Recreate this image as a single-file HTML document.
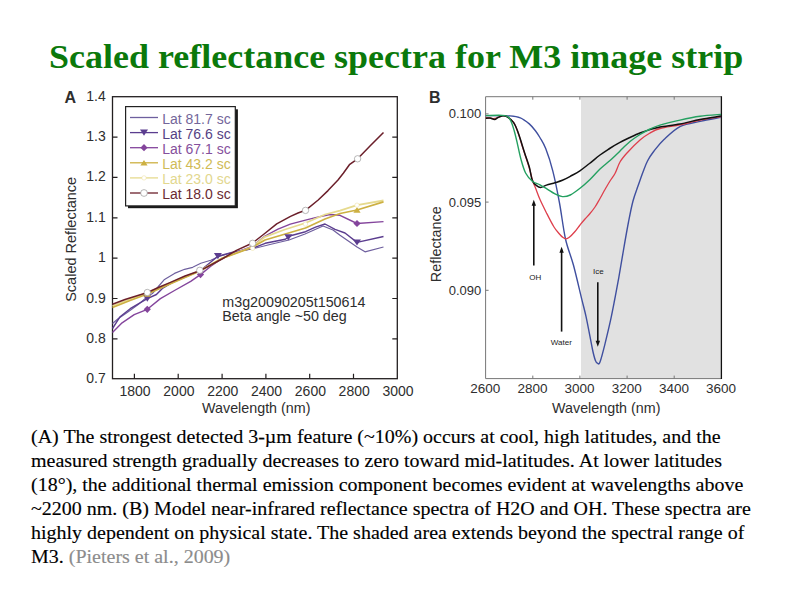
<!DOCTYPE html>
<html><head><meta charset="utf-8"><style>html,body{margin:0;padding:0;background:#fff;}svg{display:block;}</style></head>
<body><svg width="794" height="595" viewBox="0 0 794 595">
<rect width="794" height="595" fill="#fff"/>
<text transform="translate(49,67.5) scale(1,0.94)" font-family="Liberation Serif" font-weight="bold" font-size="36" fill="#0b790b">Scaled reflectance spectra for M3 image strip</text>
<g font-family="Liberation Sans" fill="#2e2e2e">
<text x="64.5" y="103" font-size="16" font-weight="bold">A</text>
<text x="105.8" y="100.8" font-size="14" text-anchor="end">1.4</text>
<text x="105.8" y="141.1" font-size="14" text-anchor="end">1.3</text>
<text x="105.8" y="181.4" font-size="14" text-anchor="end">1.2</text>
<text x="105.8" y="221.8" font-size="14" text-anchor="end">1.1</text>
<text x="105.8" y="262.2" font-size="14" text-anchor="end">1</text>
<text x="105.8" y="302.5" font-size="14" text-anchor="end">0.9</text>
<text x="105.8" y="342.9" font-size="14" text-anchor="end">0.8</text>
<text x="105.8" y="383.2" font-size="14" text-anchor="end">0.7</text>
<text x="135.1" y="395.8" font-size="14" text-anchor="middle">1800</text>
<text x="178.9" y="395.8" font-size="14" text-anchor="middle">2000</text>
<text x="222.8" y="395.8" font-size="14" text-anchor="middle">2200</text>
<text x="266.6" y="395.8" font-size="14" text-anchor="middle">2400</text>
<text x="310.4" y="395.8" font-size="14" text-anchor="middle">2600</text>
<text x="354.2" y="395.8" font-size="14" text-anchor="middle">2800</text>
<text x="398.0" y="395.8" font-size="14" text-anchor="middle">3000</text>
<text x="202.1" y="412.9" font-size="14.3">Wavelength (nm)</text>
<text transform="translate(76,301.8) rotate(-90)" font-size="14.5">Scaled Reflectance</text>
<text x="222.3" y="306.6" font-size="14.3">m3g20090205t150614</text>
<text x="222.3" y="321" font-size="14.3">Beta angle ~50 deg</text>
</g>
<rect x="112.5" y="96.7" width="284.8" height="282" fill="none" stroke="#231f20" stroke-width="1.3"/>
<path d="M112.5,137.1h5M397.3,137.1h-5M112.5,177.4h5M397.3,177.4h-5M112.5,217.8h5M397.3,217.8h-5M112.5,258.2h5M397.3,258.2h-5M112.5,298.5h5M397.3,298.5h-5M112.5,338.9h5M397.3,338.9h-5M134.4,378.7v-5M178.2,378.7v-5M222.1,378.7v-5M265.9,378.7v-5M309.7,378.7v-5M353.5,378.7v-5" stroke="#231f20" stroke-width="1.2" fill="none"/>
<polyline points="112.5,323.5 118.1,318.7 128.2,311.7 138.2,304.6 147.3,296.6 152.4,293.5 158.4,286.5 164.5,279.4 174.5,273.4 184.6,269.3 192.7,267.3 200.8,263.3 210.8,260.3 218.9,256.5 232.0,252.5 252.0,249.0 270.0,244.5 289.0,240.0 305.0,234.0 323.0,226.0 333.0,230.0 340.0,235.3 357.0,247.0 365.0,251.8 383.5,247.0" fill="none" stroke="#6e5f9e" stroke-width="1.2" stroke-linejoin="round"/>
<polyline points="112.5,328.5 120.1,316.7 130.2,308.7 147.3,298.6 156.4,294.5 162.4,288.5 172.5,282.4 186.6,276.4 200.8,270.3 217.9,256.2 232.0,252.5 252.0,248.5 265.2,243.3 285.3,239.3 288.3,237.2 292.4,235.2 305.5,231.7 315.5,227.2 325.0,224.0 335.0,229.4 345.0,233.0 357.0,242.4 383.5,236.5" fill="none" stroke="#5b3d8f" stroke-width="1.4" stroke-linejoin="round"/>
<polyline points="112.5,332.5 122.1,322.8 134.2,314.7 147.3,309.3 160.4,298.6 174.5,290.5 190.7,281.4 200.8,274.4 210.8,266.3 222.0,258.5 240.0,251.0 252.0,246.5 265.0,236.0 278.0,229.2 290.3,224.1 305.5,220.1 315.5,217.6 330.0,214.5 340.0,215.3 357.0,223.5 383.5,221.6" fill="none" stroke="#84459c" stroke-width="1.4" stroke-linejoin="round"/>
<polyline points="112.5,306.0 130.0,299.0 147.5,292.8 170.0,283.0 200.0,270.5 222.0,258.2 252.0,247.0 265.0,236.8 285.0,229.5 305.5,223.0 325.0,214.5 340.0,210.6 357.0,205.2 383.5,200.5" fill="none" stroke="#e6da8e" stroke-width="1.8" stroke-linejoin="round"/>
<polyline points="112.5,307.5 130.0,300.5 147.5,294.0 170.0,284.0 200.0,271.0 222.0,258.5 252.0,247.5 265.0,240.0 305.5,228.0 325.0,219.0 340.0,213.5 357.0,210.0 383.5,201.9" fill="none" stroke="#cdb042" stroke-width="1.7" stroke-linejoin="round"/>
<polyline points="112.5,304.3 125.0,299.5 147.5,292.5 158.4,287.5 170.5,282.4 185.0,276.0 199.8,270.8 222.0,259.0 236.4,250.4 252.6,243.0 264.1,234.0 276.7,223.9 290.5,216.4 298.0,213.0 305.5,210.3 318.2,200.0 328.0,190.6 338.0,180.0 343.5,173.0 349.4,164.7 357.6,158.8 370.0,146.0 383.5,132.5" fill="none" stroke="#6b1f2a" stroke-width="1.5" stroke-linejoin="round"/>
<path d="M143.3,295.6h8.0l-4.0,6.2z" fill="#5b3d8f"/>
<path d="M213.9,253.0h8.0l-4.0,6.2z" fill="#5b3d8f"/>
<path d="M284.3,234.2h8.0l-4.0,6.2z" fill="#5b3d8f"/>
<path d="M353.0,239.4h8.0l-4.0,6.2z" fill="#5b3d8f"/>
<path d="M147.3,305.7l3.6,3.6l-3.6,3.6l-3.6,-3.6z" fill="#84459c"/>
<path d="M200.5,271.0l3.6,3.6l-3.6,3.6l-3.6,-3.6z" fill="#84459c"/>
<path d="M357,219.9l3.6,3.6l-3.6,3.6l-3.6,-3.6z" fill="#84459c"/>
<path d="M143.9,296.7h7.2l-3.6,-5.6z" fill="#cdb042"/>
<path d="M353.4,212.7h7.2l-3.6,-5.6z" fill="#cdb042"/>
<circle cx="252.6" cy="248.3" r="2.2" fill="#fff" stroke="#eee3a8" stroke-width="0.6"/>
<circle cx="305.5" cy="224.1" r="2.2" fill="#fff" stroke="#eee3a8" stroke-width="0.6"/>
<circle cx="357" cy="205.2" r="2.2" fill="#fff" stroke="#eee3a8" stroke-width="0.6"/>
<circle cx="147.3" cy="292.5" r="3.2" fill="#fff" stroke="#999" stroke-width="0.7"/>
<circle cx="199.8" cy="270.3" r="3.2" fill="#fff" stroke="#999" stroke-width="0.7"/>
<circle cx="252.6" cy="243.3" r="3.2" fill="#fff" stroke="#999" stroke-width="0.7"/>
<circle cx="305.5" cy="210.4" r="3.2" fill="#fff" stroke="#999" stroke-width="0.7"/>
<circle cx="357.6" cy="158.8" r="3.2" fill="#fff" stroke="#999" stroke-width="0.7"/>
<rect x="128" y="109.3" width="109.9" height="98.9" fill="#1a1a1a"/>
<rect x="125.6" y="106.6" width="109.7" height="99.3" fill="#fff" stroke="#222" stroke-width="1.2"/>
<line x1="130" y1="117.5" x2="158" y2="117.5" stroke="#6e5f9e" stroke-width="1.3"/>
<text x="162.2" y="123.6" font-family="Liberation Sans" font-size="14" fill="#73669a">Lat 81.7 sc</text>
<line x1="130" y1="132.6" x2="158" y2="132.6" stroke="#5b3d8f" stroke-width="1.3"/>
<path d="M140.0,129.6h8.0l-4.0,6.2z" fill="#5b3d8f"/>
<text x="162.2" y="138.7" font-family="Liberation Sans" font-size="14" fill="#554283">Lat 76.6 sc</text>
<line x1="130" y1="147.7" x2="158" y2="147.7" stroke="#84459c" stroke-width="1.3"/>
<path d="M144,144.1l3.6,3.6l-3.6,3.6l-3.6,-3.6z" fill="#84459c"/>
<text x="162.2" y="153.8" font-family="Liberation Sans" font-size="14" fill="#85509c">Lat 67.1 sc</text>
<line x1="130" y1="162.8" x2="158" y2="162.8" stroke="#cdb042" stroke-width="1.3"/>
<path d="M140.4,165.5h7.2l-3.6,-5.6z" fill="#cdb042"/>
<text x="162.2" y="168.9" font-family="Liberation Sans" font-size="14" fill="#d0bb56">Lat 43.2 sc</text>
<line x1="130" y1="177.9" x2="158" y2="177.9" stroke="#e6da8e" stroke-width="1.3"/>
<circle cx="144" cy="177.9" r="2.2" fill="#fff" stroke="#eee3a8" stroke-width="0.6"/>
<text x="162.2" y="184.0" font-family="Liberation Sans" font-size="14" fill="#e2d78e">Lat 23.0 sc</text>
<line x1="130" y1="193.0" x2="158" y2="193.0" stroke="#6b1f2a" stroke-width="1.3"/>
<circle cx="144" cy="193.0" r="3.4" fill="#fff" stroke="#999" stroke-width="0.7"/>
<text x="162.2" y="199.1" font-family="Liberation Sans" font-size="14" fill="#6a2a32">Lat 18.0 sc</text>
<rect x="581" y="96.7" width="140.4" height="281.9" fill="#e1e1e1"/>
<g font-family="Liberation Sans" fill="#2e2e2e">
<text x="429" y="102.6" font-size="16" font-weight="bold">B</text>
<text x="481.3" y="118.4" font-size="13" text-anchor="end">0.100</text>
<text x="481.3" y="206.6" font-size="13" text-anchor="end">0.095</text>
<text x="481.3" y="294.8" font-size="13" text-anchor="end">0.090</text>
<text x="485.3" y="392.9" font-size="13.5" text-anchor="middle">2600</text>
<text x="532.5" y="392.9" font-size="13.5" text-anchor="middle">2800</text>
<text x="579.6" y="392.9" font-size="13.5" text-anchor="middle">3000</text>
<text x="626.8" y="392.9" font-size="13.5" text-anchor="middle">3200</text>
<text x="673.9" y="392.9" font-size="13.5" text-anchor="middle">3400</text>
<text x="721.1" y="392.9" font-size="13.5" text-anchor="middle">3600</text>
<text x="552.1" y="412.9" font-size="14.3">Wavelength (nm)</text>
<text transform="translate(441,282.2) rotate(-90)" font-size="14.4">Reflectance</text>
</g>
<path d="M485.6,96.7V378.6H721.4M485.6,96.7H721.4M532.8,378.6v-3M532.8,96.7v3M579.9,378.6v-3M579.9,96.7v3M627.1,378.6v-3M627.1,96.7v3M674.2,378.6v-3M674.2,96.7v3M485.6,113.9h3M485.6,202.1h3M485.6,290.3h3" stroke="#777" stroke-width="1" fill="none"/>
<path d="M721.4,96.2V379" stroke="#111" stroke-width="1.3"/>
<path d="M485.8,115.6C489.8,115.6 504.2,115.5 510.0,115.9C515.8,116.3 517.1,116.5 520.3,117.8C523.5,119.1 526.8,121.8 529.3,123.9C531.8,126.1 533.6,128.4 535.4,130.7C537.2,133.0 538.2,134.5 539.9,137.5C541.6,140.5 543.5,142.9 545.7,148.6C547.9,154.2 550.6,162.3 552.9,171.4C555.2,180.5 557.4,191.7 559.5,203.0C561.6,214.3 563.2,228.6 565.5,239.0C567.8,249.4 570.8,255.2 573.5,265.3C576.2,275.4 579.7,290.8 581.8,299.4C583.9,308.0 584.3,308.6 586.1,316.9C587.9,325.2 590.9,341.7 592.4,349.0C593.9,356.3 594.5,358.1 595.4,360.5C596.3,362.9 596.8,363.1 597.6,363.3C598.4,363.6 598.8,365.2 600.0,362.0C601.2,358.8 603.3,350.7 605.0,343.8C606.7,336.9 608.8,328.2 610.4,320.9C612.0,313.6 613.2,307.2 614.6,300.0C616.0,292.8 617.3,285.9 618.8,277.6C620.3,269.3 621.9,259.3 623.5,250.0C625.1,240.7 626.9,230.2 628.5,222.0C630.1,213.8 631.4,207.0 633.0,201.0C634.6,195.0 636.3,190.8 638.0,186.0C639.7,181.2 641.4,176.2 643.0,172.0C644.6,167.8 645.7,164.5 647.5,161.0C649.3,157.5 651.2,154.6 654.0,151.0C656.8,147.4 659.6,143.6 664.0,139.5C668.4,135.4 674.4,129.4 680.4,126.4C686.4,123.4 693.2,122.9 700.0,121.4C706.8,119.9 717.5,118.0 721.0,117.3" fill="none" stroke="#3f4f9f" stroke-width="1.4" stroke-linejoin="round"/>
<path d="M485.8,117.5C487.3,117.7 491.9,118.8 494.6,118.5C497.3,118.2 500.1,116.2 502.1,115.9C504.1,115.6 504.8,115.4 506.7,116.5C508.6,117.6 511.6,119.7 513.5,122.4C515.4,125.1 516.8,129.2 518.0,132.5C519.2,135.8 519.9,138.4 521.0,142.0C522.1,145.6 523.4,149.7 524.8,154.0C526.2,158.3 528.0,163.7 529.3,168.0C530.6,172.3 531.4,176.7 532.4,180.0C533.4,183.3 534.2,184.8 535.5,188.0C536.8,191.2 538.1,195.2 540.0,199.5C541.9,203.8 544.7,209.3 547.0,213.9C549.3,218.5 552.0,223.7 554.0,227.0C556.0,230.3 557.5,231.7 559.0,233.5C560.5,235.3 561.8,236.7 563.0,237.6C564.2,238.5 565.0,238.8 566.0,238.8C567.0,238.8 567.5,238.8 569.0,237.6C570.5,236.4 573.2,233.6 575.0,231.5C576.8,229.4 578.3,227.1 580.0,225.0C581.7,222.9 583.3,220.9 585.0,219.0C586.7,217.1 588.3,215.5 590.0,213.5C591.7,211.5 593.3,209.5 595.0,207.0C596.7,204.5 598.3,201.4 600.0,198.5C601.7,195.6 603.3,192.4 605.0,189.5C606.7,186.6 608.3,183.7 610.0,181.0C611.7,178.3 613.3,176.7 615.0,173.5C616.7,170.3 618.0,165.4 620.0,162.0C622.0,158.6 623.7,156.7 627.0,153.0C630.3,149.3 636.2,143.3 640.0,140.0C643.8,136.7 646.7,134.9 650.0,133.0C653.3,131.1 655.0,129.9 660.0,128.5C665.0,127.1 673.3,126.2 680.0,124.8C686.7,123.4 693.2,121.5 700.0,120.1C706.8,118.7 717.5,117.2 721.0,116.6" fill="none" stroke="#de3f4c" stroke-width="1.3" stroke-linejoin="round"/>
<path d="M485.8,118.3C486.5,118.2 488.5,117.8 490.0,118.0C491.5,118.2 493.3,119.5 494.6,119.4C495.9,119.3 496.8,118.1 498.0,117.5C499.2,116.9 500.7,116.1 502.1,115.9C503.6,115.7 504.8,115.4 506.7,116.5C508.6,117.6 511.6,119.8 513.5,122.4C515.4,125.0 516.8,129.0 518.0,132.2C519.2,135.3 519.9,137.8 521.0,141.3C522.1,144.8 523.4,149.1 524.8,153.4C526.2,157.7 528.0,162.5 529.3,167.0C530.6,171.5 531.1,177.4 532.4,180.6C533.7,183.8 535.5,184.8 536.9,185.9C538.3,187.0 539.1,187.5 540.7,187.4C542.3,187.3 544.0,185.9 546.4,185.1C548.8,184.3 552.3,183.5 555.0,182.7C557.7,181.9 559.9,181.4 562.4,180.3C564.9,179.2 567.4,177.9 570.3,176.3C573.2,174.7 576.7,172.9 579.9,170.8C583.1,168.7 586.1,166.1 589.5,163.5C592.9,160.9 596.6,157.5 600.0,155.0C603.4,152.5 606.4,150.6 609.6,148.5C612.9,146.4 616.2,144.5 619.5,142.7C622.8,140.9 625.9,139.4 629.3,137.8C632.7,136.2 636.4,134.4 639.9,133.0C643.4,131.6 646.6,130.6 650.0,129.6C653.4,128.6 655.0,128.0 660.0,127.0C665.0,126.0 673.3,125.2 680.0,123.9C686.7,122.7 693.2,120.8 700.0,119.5C706.8,118.2 717.5,116.7 721.0,116.1" fill="none" stroke="#111" stroke-width="1.5" stroke-linejoin="round"/>
<path d="M485.8,115.6C489.0,115.6 501.1,114.8 505.2,115.6C509.3,116.3 508.9,117.6 510.4,120.1C511.9,122.6 513.1,126.9 514.2,130.7C515.3,134.5 516.1,138.0 517.2,142.8C518.3,147.6 519.6,154.4 521.0,159.4C522.4,164.4 523.7,169.3 525.6,173.0C527.5,176.7 530.0,179.3 532.4,181.3C534.8,183.3 537.5,183.5 540.0,184.8C542.5,186.1 544.7,187.6 547.2,189.1C549.7,190.6 552.5,192.7 555.0,193.9C557.5,195.2 559.9,196.4 562.4,196.6C564.9,196.8 567.4,196.4 570.3,195.0C573.2,193.6 576.7,190.9 580.0,188.3C583.3,185.7 586.7,182.7 590.0,179.5C593.3,176.3 596.7,172.2 600.0,169.0C603.3,165.8 606.7,163.5 610.0,160.5C613.3,157.5 616.7,154.2 620.0,151.0C623.3,147.8 626.7,144.2 630.0,141.5C633.3,138.8 636.7,136.6 640.0,134.5C643.3,132.4 646.7,130.6 650.0,129.0C653.3,127.5 655.0,126.7 660.0,125.2C665.0,123.7 673.3,121.6 680.0,120.1C686.7,118.6 693.2,117.2 700.0,116.3C706.8,115.3 717.5,114.7 721.0,114.4" fill="none" stroke="#24a060" stroke-width="1.4" stroke-linejoin="round"/>
<path d="M533.8,204.7V265.6" stroke="#111" stroke-width="1.6"/><path d="M531.5999999999999,205.7L533.8,199.7L536.0,205.7z" fill="#111"/>
<path d="M561.6,251.8V331.6" stroke="#111" stroke-width="1.6"/><path d="M559.4,252.8L561.6,246.8L563.8000000000001,252.8z" fill="#111"/>
<path d="M597.8,282.2V341.7" stroke="#111" stroke-width="1.6"/><path d="M595.5999999999999,340.7L597.8,346.7L600.0,340.7z" fill="#111"/>
<g font-family="Liberation Sans" font-size="8" fill="#1a1a1a">
<text x="535.3" y="280" text-anchor="middle">OH</text>
<text x="561.3" y="344.7" text-anchor="middle">Water</text>
<text x="598.4" y="274.2" text-anchor="middle">Ice</text>
</g>
<g font-family="Liberation Serif" font-size="20" fill="#000" stroke="#000" stroke-width="0.15">
<text transform="translate(31,443.30) scale(1,0.92)">(A) The strongest detected 3-µm feature (~10%) occurs at cool, high latitudes, and the</text>
<text transform="translate(31,467.25) scale(1,0.92)">measured strength gradually decreases to zero toward mid-latitudes. At lower latitudes</text>
<text transform="translate(31,491.20) scale(1,0.92)">(18°), the additional thermal emission component becomes evident at wavelengths above</text>
<text transform="translate(31,515.15) scale(1,0.92)">~2200 nm. (B) Model near-infrared reflectance spectra of H2O and OH. These spectra are</text>
<text transform="translate(31,539.10) scale(1,0.92)">highly dependent on physical state. The shaded area extends beyond the spectral range of</text>
<text transform="translate(31,563.05) scale(1,0.92)">M3. <tspan fill="#8c8c8c" stroke="#8c8c8c">(Pieters et al., 2009)</tspan></text>
</g>
</svg></body></html>
